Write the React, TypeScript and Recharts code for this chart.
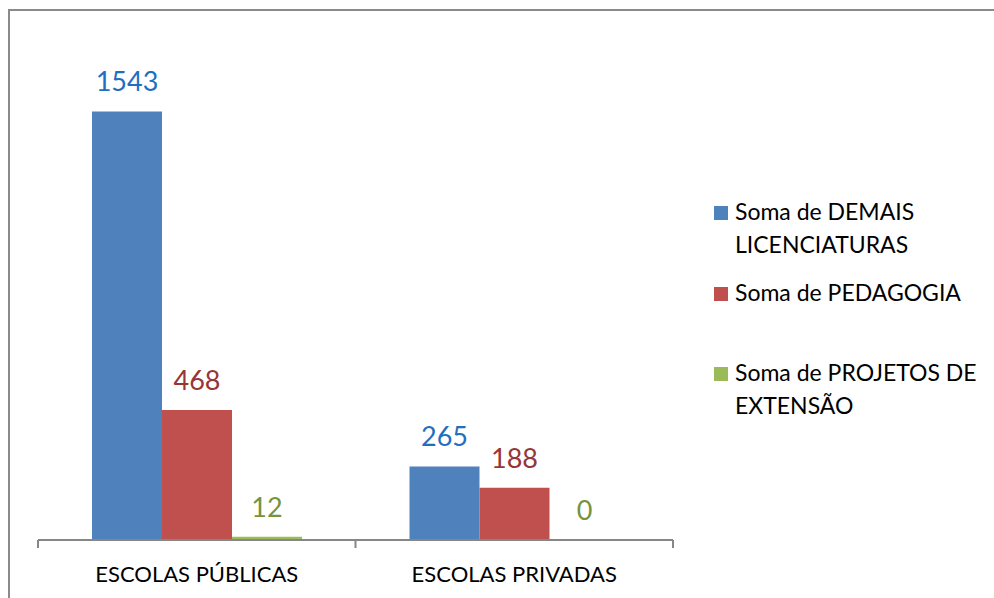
import React from "react";
import { BarChart, Bar, XAxis, YAxis, LabelList, Legend } from "recharts";

const categories = ["ESCOLAS PÚBLICAS", "ESCOLAS PRIVADAS"];
const demais = [1543, 265];
const pedagogia = [468, 188];
const projetos = [12, 0];
const seriesNames = [
  "Soma de DEMAIS LICENCIATURAS",
  "Soma de PEDAGOGIA",
  "Soma de PROJETOS DE EXTENSÃO",
];
const legendLines: string[][] = [
  ["Soma de DEMAIS", "LICENCIATURAS"],
  ["Soma de PEDAGOGIA"],
  ["Soma de PROJETOS DE", "EXTENSÃO"],
];

const data = categories.map((c, i) => ({
  name: c,
  demais: demais[i],
  pedagogia: pedagogia[i],
  projetos: projetos[i],
}));

const FONT = "Lato, 'Open Sans', sans-serif";
const PLOT_W = 635;

const CategoryTick = (props: any) => {
  const { x, y, payload, index } = props;
  const half = payload && payload.offset ? payload.offset : PLOT_W / categories.length / 2;
  return (
    <g>
      <line x1={x - half} x2={x - half} y1={y} y2={y + 8} stroke="#868686" strokeWidth={2} />
      {index === categories.length - 1 && (
        <line x1={x + half} x2={x + half} y1={y} y2={y + 8} stroke="#868686" strokeWidth={2} />
      )}
      <text x={x} y={y + 42} textAnchor="middle" fontFamily={FONT} fontSize={22} fill="#000">
        {payload.value}
      </text>
    </g>
  );
};

const LegendContent = (props: any) => {
  const payload = props.payload || [];
  return (
    <div style={{ position: "relative", width: 275, height: 240, fontFamily: FONT, fontSize: 23, color: "#000" }}>
      {payload.map((entry: any, i: number) => {
        const idx = seriesNames.indexOf(entry.value);
        const lines = idx >= 0 ? legendLines[idx] : [String(entry.value)];
        return (
          <div key={i} style={{ position: "absolute", left: 0, top: i * 80.5, whiteSpace: "nowrap" }}>
            <div style={{ position: "absolute", left: 0, top: 11, width: 14, height: 14, background: entry.color }} />
            {lines.map((l, j) => (
              <div key={j} style={{ position: "absolute", left: 21, top: j * 32.5, lineHeight: "32px" }}>
                {l}
              </div>
            ))}
          </div>
        );
      })}
    </div>
  );
};

const ValueLabel = (color: string) => (props: any) => {
  const { x, y, width, value } = props;
  return (
    <text x={x + width / 2} y={y - 20} textAnchor="middle" fill={color} fontSize={27} fontFamily={FONT}>
      {value}
    </text>
  );
};

export default function App() {
  return (
    <div style={{ position: "absolute", left: 0, top: 0, width: 994, height: 598, overflow: "hidden", background: "#fff" }}>
      <div
        style={{
          position: "absolute",
          left: 8,
          top: 9,
          width: 1100,
          height: 1100,
          border: "2px solid #8a8a8a",
          boxSizing: "border-box",
        }}
      />
      <div style={{ position: "absolute", left: 0, top: 0 }}>
        <BarChart
          width={994}
          height={598}
          data={data}
          margin={{ top: 40, right: 321, bottom: 28, left: 38 }}
          barGap={0}
          barSize={70}
        >
          <XAxis
            dataKey="name"
            height={30}
            tickLine={false}
            tickSize={0}
            tickMargin={0}
            axisLine={{ stroke: "#868686", strokeWidth: 2 }}
            tick={<CategoryTick />}
            interval={0}
          />
          <YAxis hide domain={[0, 1800]} />
          <Legend
            verticalAlign="middle"
            align="center"
            content={<LegendContent />}
            wrapperStyle={{ position: "absolute", left: 714, top: 195, width: 275, height: 240 }}
          />
          <Bar dataKey="demais" name={seriesNames[0]} fill="#4F81BD" isAnimationActive={false}>
            <LabelList dataKey="demais" content={ValueLabel("#1F6FC0")} />
          </Bar>
          <Bar dataKey="pedagogia" name={seriesNames[1]} fill="#C0504D" isAnimationActive={false}>
            <LabelList dataKey="pedagogia" content={ValueLabel("#953735")} />
          </Bar>
          <Bar dataKey="projetos" name={seriesNames[2]} fill="#9BBB59" minPointSize={0.5} isAnimationActive={false}>
            <LabelList dataKey="projetos" content={ValueLabel("#77933C")} />
          </Bar>
        </BarChart>
      </div>
    </div>
  );
}
